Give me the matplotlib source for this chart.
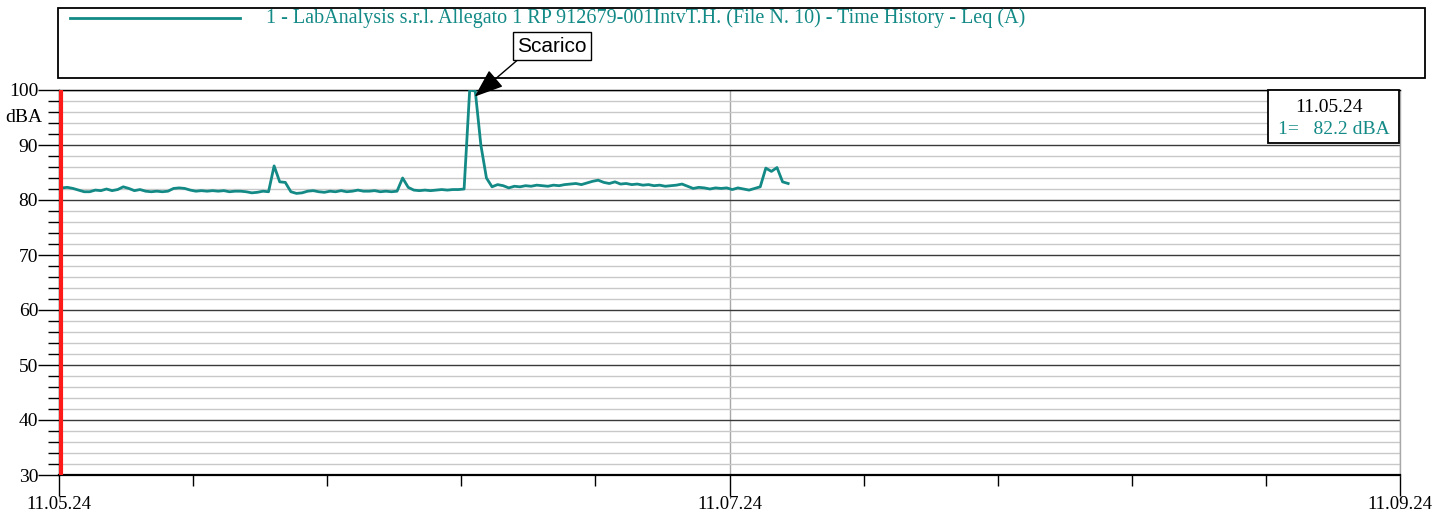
"""Time history of Leq (A) with a cursor, legend box and a marked peak."""
import matplotlib

matplotlib.use("Agg")
import matplotlib.pyplot as plt
import numpy as np
from matplotlib.patches import Rectangle
from matplotlib.ticker import FixedLocator, MultipleLocator

# data: Leq (A) sampled once a second, starting half a second after 11.05.24
leq_start_s = 0.5
leq_step_s = 1.0
leq_dba = [
    82.2, 82.3, 82.1, 81.8, 81.5, 81.5, 81.8, 81.7, 82.0, 81.7,
    81.9, 82.4, 82.1, 81.7, 81.9, 81.6, 81.5, 81.6, 81.5, 81.6,
    82.1, 82.2, 82.1, 81.8, 81.6, 81.7, 81.6, 81.7, 81.6, 81.7,
    81.5, 81.6, 81.6, 81.5, 81.3, 81.4, 81.6, 81.5, 86.2, 83.3,
    83.2, 81.5, 81.2, 81.3, 81.6, 81.7, 81.5, 81.4, 81.6, 81.5,
    81.7, 81.5, 81.6, 81.8, 81.6, 81.6, 81.7, 81.5, 81.6, 81.5,
    81.6, 84.0, 82.3, 81.8, 81.7, 81.8, 81.7, 81.8, 81.9, 81.8,
    81.9, 81.9, 82.0, 100.0, 99.8, 90.0, 84.0, 82.4, 82.8, 82.6,
    82.2, 82.5, 82.4, 82.6, 82.5, 82.7, 82.6, 82.5, 82.7, 82.6,
    82.8, 82.9, 83.0, 82.8, 83.1, 83.4, 83.6, 83.2, 83.0, 83.3,
    82.9, 83.0, 82.8, 82.9, 82.7, 82.8, 82.6, 82.7, 82.5, 82.6,
    82.7, 82.9, 82.5, 82.1, 82.3, 82.2, 82.0, 82.2, 82.1, 82.2,
    81.9, 82.2, 82.0, 81.8, 82.1, 82.4, 85.8, 85.2, 85.9, 83.3,
    83.0,
]

# axis: 4 minutes, labels every 2 minutes
x_major_s = [0, 120, 240]
x_labels = ["11.05.24", "11.07.24", "11.09.24"]
y_labels = ["30", "40", "50", "60", "70", "80", "90", "100"]

cursor_s = 0.35
cursor_time = "11.05.24"
cursor_value = 82.2
peak_s = 74.4
peak_dba = 98.8
peak_label = "Scarico"
series_label = "1 - LabAnalysis s.r.l. Allegato 1 RP 912679-001IntvT.H. (File N. 10) - Time History - Leq (A)"

TEAL = "#138a86"
SERIF = ["Liberation Serif", "DejaVu Serif"]

t = leq_start_s + leq_step_s * np.arange(len(leq_dba))

fig = plt.figure(figsize=(14.52, 5.12), dpi=100)
ax = fig.add_axes([59 / 1452, 37 / 512, 1341 / 1452, 385 / 512])

ax.set_xlim(0, 240)
ax.set_ylim(30, 100)

# grid
ax.yaxis.set_major_locator(MultipleLocator(10))
ax.yaxis.set_minor_locator(MultipleLocator(2))
ax.xaxis.set_major_locator(FixedLocator(x_major_s))
ax.xaxis.set_minor_locator(MultipleLocator(24))
ax.grid(True, axis="y", which="major", color="#3a3a3a", lw=1.0)
ax.grid(True, axis="y", which="minor", color="#c8c8c8", lw=1.0)
ax.grid(True, axis="x", which="major", color="#a8a8a8", lw=1.0)
ax.set_axisbelow(True)

ax.plot(t, leq_dba, color=TEAL, lw=2.0, zorder=3)
ax.axvline(cursor_s, color="#ff1a1a", lw=3.0, zorder=4)

for side in ["left", "bottom", "top"]:
    ax.spines[side].set_color("black")
ax.spines["left"].set_linewidth(1.0)
ax.spines["bottom"].set_linewidth(1.6)
ax.spines["top"].set_linewidth(1.0)
ax.spines["right"].set_color("#a8a8a8")
ax.spines["right"].set_linewidth(1.0)

ax.tick_params(axis="both", which="major", direction="out", length=15, width=1.0, color="black")
ax.tick_params(axis="both", which="minor", direction="out", length=8, width=1.0, color="black")
ax.tick_params(axis="y", pad=0)
ax.tick_params(axis="x", pad=0)
ax.set_yticks(np.arange(30, 101, 10))
ax.set_yticklabels(y_labels, fontsize=14, family=SERIF)
ax.set_xticks(x_major_s)
ax.set_xticklabels(x_labels, fontsize=13.5, family=SERIF)

fig.text(42 / 1452, 1 - 118 / 512, "dBA", ha="right", va="center", fontsize=14, family=SERIF)

# legend box at the top
fig.patches.append(Rectangle((58 / 1452, 1 - 78 / 512), 1367 / 1452, 70 / 512,
                             transform=fig.transFigure, fill=False, ec="black", lw=1.3))
fig.lines.append(plt.Line2D([70 / 1452, 240 / 1452], [1 - 18 / 512, 1 - 18 / 512],
                            transform=fig.transFigure, color=TEAL, lw=2.0))
fig.text(266 / 1452, 1 - 18 / 512, series_label, ha="left", va="center",
         fontsize=14.5, color=TEAL, family=SERIF)

# cursor readout box
fig.patches.append(Rectangle((1268 / 1452, 1 - 143 / 512), 131 / 1452, 53 / 512,
                             transform=fig.transFigure, fc="white", ec="black", lw=1.3, zorder=5))
fig.text(1329 / 1452, 1 - 107 / 512, cursor_time, ha="center", va="center",
         fontsize=14, family=SERIF, zorder=6)
fig.text(1390 / 1452, 1 - 129 / 512, f"1=   {cursor_value:.1f} dBA", ha="right", va="center",
         fontsize=14, color=TEAL, family=SERIF, zorder=6)

# peak annotation
ax.annotate(peak_label, xy=(peak_s, peak_dba), xycoords="data",
            xytext=(552, 512 - 46), textcoords="figure pixels",
            ha="center", va="center", fontsize=15, family=["Liberation Sans", "DejaVu Sans"],
            bbox=dict(boxstyle="square,pad=0.2", fc="white", ec="black", lw=1.0),
            arrowprops=dict(arrowstyle="-|>,head_length=1.2,head_width=0.45", color="black",
                            lw=1.0, shrinkA=0, shrinkB=0, relpos=(0.08, 0.0)),
            annotation_clip=False, zorder=7)

fig.savefig("out.png", dpi=100)
